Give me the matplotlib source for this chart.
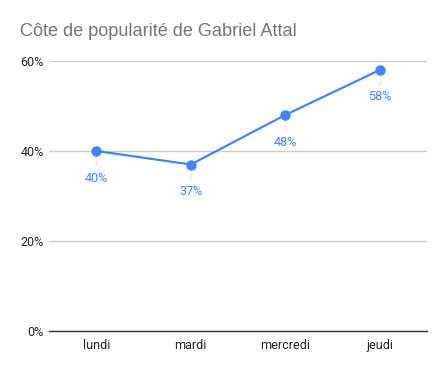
import numpy as np
import matplotlib
matplotlib.use('Agg')
import matplotlib.pyplot as plt
from matplotlib.ticker import FuncFormatter

jours = ['lundi', 'mardi', 'mercredi', 'jeudi']
popularite = [0.40, 0.37, 0.48, 0.58]
y_ticks = [0.0, 0.2, 0.4, 0.6]

bleu = '#4285F4'

fig = plt.figure(figsize=(4.45, 3.71), dpi=100)
ax = fig.add_axes([49 / 445, 1 - 331 / 371, 378 / 445, 270 / 371])

x = np.arange(len(jours))
ax.plot(x, popularite, color=bleu, linewidth=1.6, marker='o', markersize=6.5, zorder=3)

for xi, v in zip(x, popularite):
    # fine ligne de repère vers l'étiquette
    ax.plot([xi, xi], [v, v - 0.03], color='#e6e6e6', linewidth=1, zorder=2)
    ax.annotate(f"{v * 100:.0f}%", (xi, v), xytext=(0, -27), textcoords='offset pixels',
                ha='center', va='center', color=bleu, fontsize=9, family='Roboto')

ax.set_xlim(-0.5, len(jours) - 0.5)
ax.set_ylim(0, 0.6)
ax.set_xticks(x)
ax.set_xticklabels(jours, family='Roboto', fontsize=9, color='#222222')
ax.set_yticks(y_ticks)
ax.yaxis.set_major_formatter(FuncFormatter(lambda v, p: f"{v * 100:.0f}%"))
for lab in ax.get_yticklabels():
    lab.set_family('Roboto')
    lab.set_fontsize(9)
    lab.set_color('#222222')

ax.grid(axis='y', color='#cccccc', linewidth=1)
ax.set_axisbelow(True)
for s in ['top', 'right', 'left']:
    ax.spines[s].set_visible(False)
ax.spines['bottom'].set_color('#333333')
ax.spines['bottom'].set_linewidth(1)
ax.spines['bottom'].set_zorder(2.5)
ax.tick_params(axis='both', length=0, pad=6)
ax.tick_params(axis='y', pad=4)

fig.text(20 / 445, 1 - 32 / 371, 'Côte de popularité de Gabriel Attal', family='Liberation Sans',
         fontsize=13.1, color='#757575', ha='left', va='center')

fig.savefig('out.png', dpi=100, facecolor='white')
